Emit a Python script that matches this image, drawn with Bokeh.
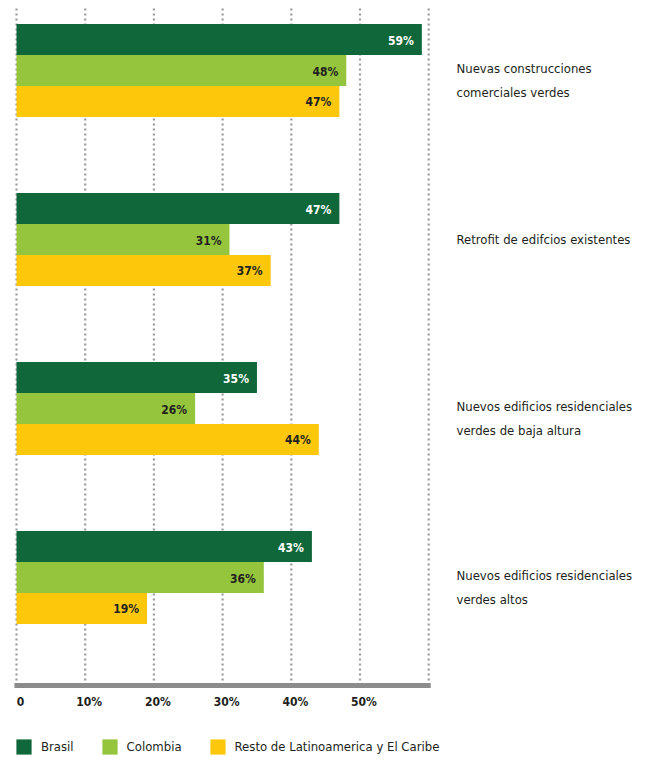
from bokeh.plotting import figure
from bokeh.models import ColumnDataSource, Range1d, Legend, LegendItem
from bokeh.core.properties import value
from bokeh.embed import file_html
from bokeh.resources import INLINE

categories = [
    "Nuevas construcciones\ncomerciales verdes",
    "Retrofit de edifcios existentes",
    "Nuevos edificios residenciales\nverdes de baja altura",
    "Nuevos edificios residenciales\nverdes altos",
]
brasil = [59, 47, 35, 43]
colombia = [48, 31, 26, 36]
resto = [47, 37, 44, 19]
series_names = ["Brasil", "Colombia", "Resto de Latinoamerica y El Caribe"]
series_colors = ["#10673a", "#94c53c", "#fdc70c"]
label_colors = ["#ffffff", "#231f20", "#231f20"]
tick_values = [0, 10, 20, 30, 40, 50]
tick_labels = ["0", "10%", "20%", "30%", "40%", "50%"]
grid_values = [0, 10, 20, 30, 40, 50, 60]

FONT = "'DejaVu Sans Condensed', 'Roboto'"

# layout constants (pixel geometry -> data units)
W, H = 648, 757
PX_X = 6.87          # pixels per percentage point
LEFT_PX = 16         # pixel position of 0 %
PX_Y = 169           # pixels per category step
TOP_PX = 70          # pixel position of first category centre
y_top = -TOP_PX / PX_Y
y_of = lambda px: y_top + px / PX_Y
x_of = lambda px: (px - LEFT_PX) / PX_X

p = figure(width=W, height=H, output_backend="svg", toolbar_location=None,
           x_range=Range1d(x_of(0), x_of(W)), y_range=Range1d(y_of(H), y_top),
           min_border=0, outline_line_color=None)
p.axis.visible = False
p.grid.visible = False

axis_y = y_of(685)
grid_top = y_of(8)

# dotted grid lines
p.segment(x0=grid_values, y0=[grid_top] * len(grid_values),
          x1=grid_values, y1=[axis_y] * len(grid_values),
          line_color="#9a9a9a", line_width=2.2, line_dash="2 3")

bar_h = 0.1834
offsets = [-bar_h, 0.0, bar_h]
series = [brasil, colombia, resto]
renderers = []
for name, vals, off, col, lcol in zip(series_names, series, offsets, series_colors, label_colors):
    src = ColumnDataSource(dict(
        y=[i + off for i in range(len(vals))],
        v=vals,
        lab=[f"{v}%" for v in vals],
    ))
    r = p.hbar(y="y", left=0, right="v", height=bar_h, color=col, line_color=None, source=src)
    renderers.append(r)
    p.text(x="v", y="y", text="lab", source=src, x_offset=-8, y_offset=1,
           text_align="right", text_baseline="middle", text_color=lcol,
           text_font=value(FONT), text_font_size="12px", text_font_style="bold")

# axis line
p.segment(x0=[-0.3], y0=[axis_y], x1=[60.3], y1=[axis_y], line_color="#8c8c8c", line_width=5)

# tick labels
p.text(x=tick_values, y=[y_of(701)] * len(tick_values), text=tick_labels, x_offset=4,
       text_align="center", text_baseline="middle", text_color="#231f20",
       text_font=value(FONT), text_font_size="12px", text_font_style="bold")

# category labels
cat_src = ColumnDataSource(dict(
    x=[x_of(456)] * len(categories),
    y=list(range(len(categories))),
    t=categories,
    yo=[10 if "\n" in c else 0 for c in categories],
))
p.text(x="x", y="y", text="t", y_offset="yo", source=cat_src, text_align="left",
       text_baseline="middle", text_color="#231f20", text_font=value(FONT),
       text_font_size="13px", text_line_height=1.6)

legend = Legend(items=[LegendItem(label=n, renderers=[r]) for n, r in zip(series_names, renderers)],
                orientation="horizontal", location=(14, 1),
                glyph_width=19, glyph_height=19, label_standoff=8, spacing=26,
                padding=0, margin=0, border_line_color=None, background_fill_alpha=0,
                label_text_font=FONT, label_text_font_size="13px", label_text_color="#231f20",
                label_height=19)
p.add_layout(legend)
p.background_fill_color = "white"
p.border_fill_color = "white"

open("out.html", "w").write(file_html(p, INLINE))
